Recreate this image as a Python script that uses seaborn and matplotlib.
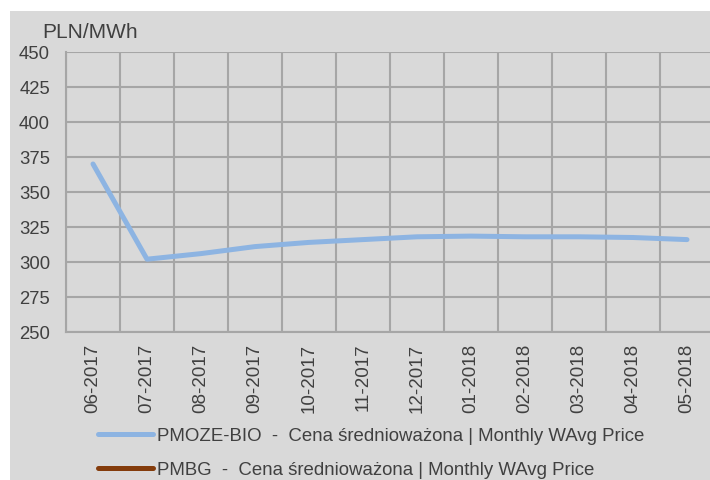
import numpy as np
import pandas as pd
import matplotlib
matplotlib.use("Agg")
import matplotlib.pyplot as plt
import seaborn as sns
from matplotlib.lines import Line2D
from matplotlib.patches import Rectangle

months = ["06-2017", "07-2017", "08-2017", "09-2017", "10-2017", "11-2017",
          "12-2017", "01-2018", "02-2018", "03-2018", "04-2018", "05-2018"]
pmoze_bio = [370, 302, 306, 311, 314, 316, 318, 318.5, 318, 318, 317.5, 316]
pmbg = [np.nan] * 12
series_names = ["PMOZE-BIO  -  Cena średnioważona | Monthly WAvg Price",
                "PMBG  -  Cena średnioważona | Monthly WAvg Price"]
y_ticks = [250, 275, 300, 325, 350, 375, 400, 425, 450]

BG = "#d9d9d9"
GRID = "#a6a6a6"
TXT = "#404040"
colors = ["#8db4e2", "#843c0c"]

sns.set_style("white")
plt.rcParams["font.family"] = ["Liberation Sans", "DejaVu Sans"]

W, H = 710, 481
fig = plt.figure(figsize=(W / 100, H / 100), dpi=100)
fig.patch.set_facecolor("white")
fig.patches.append(Rectangle((10 / W, 0), 1, 1 - 12 / H, transform=fig.transFigure,
                             facecolor=BG, edgecolor="none", zorder=-10))

# plot area in pixels (right edge is cut off by the picture)
ax_l, ax_r, ax_t, ax_b = 66, 714, 53, 333
ax = fig.add_axes([ax_l / W, 1 - ax_b / H, (ax_r - ax_l) / W, (ax_b - ax_t) / H])
ax.set_facecolor(BG)

df = pd.DataFrame({"idx": np.arange(len(months)), "PMOZE-BIO": pmoze_bio, "PMBG": pmbg})
sns.lineplot(data=df, x="idx", y="PMOZE-BIO", ax=ax, color=colors[0], lw=3.6,
             solid_capstyle="round", zorder=3)
if df["PMBG"].notna().any():
    sns.lineplot(data=df, x="idx", y="PMBG", ax=ax, color=colors[1], lw=3.6, zorder=3)

ax.set_xlim(-0.5, len(months) - 0.5)
ax.set_ylim(250, 450)
ax.set_yticks(y_ticks)
ax.set_yticklabels([str(v) for v in y_ticks], fontsize=13.3, color=TXT)
ax.set_xticks(np.arange(len(months)))
ax.set_xticklabels(months, rotation=90, fontsize=13.5, color=TXT)
ax.set_xticks(np.arange(len(months)) - 0.5, minor=True)
ax.tick_params(axis="x", which="both", length=0, pad=7.5)
ax.tick_params(axis="y", length=0, pad=11.5)
ax.grid(True, axis="y", which="major", color=GRID, lw=1.5)
ax.grid(True, axis="x", which="minor", color=GRID, lw=1.5)
ax.grid(False, axis="x", which="major")
ax.set_xlabel("")
ax.set_ylabel("")
for s in ["top", "right"]:
    ax.spines[s].set_visible(False)
for s in ["left", "bottom"]:
    ax.spines[s].set_color(GRID)
    ax.spines[s].set_linewidth(1.5)

fig.text(42 / W, 1 - 32 / H, "PLN/MWh", fontsize=15, color=TXT, va="center", ha="left")

handles = [Line2D([], [], color=c, lw=3.6, solid_capstyle="round") for c in colors]
fig.legend(handles, series_names, loc="upper left", bbox_to_anchor=(98 / W, 1 - 428 / H),
           frameon=False, fontsize=13.4, labelcolor=TXT, handlelength=2.95,
           handletextpad=0.2, labelspacing=0.92, borderpad=0, borderaxespad=0)

fig.savefig("out.png", dpi=100)
